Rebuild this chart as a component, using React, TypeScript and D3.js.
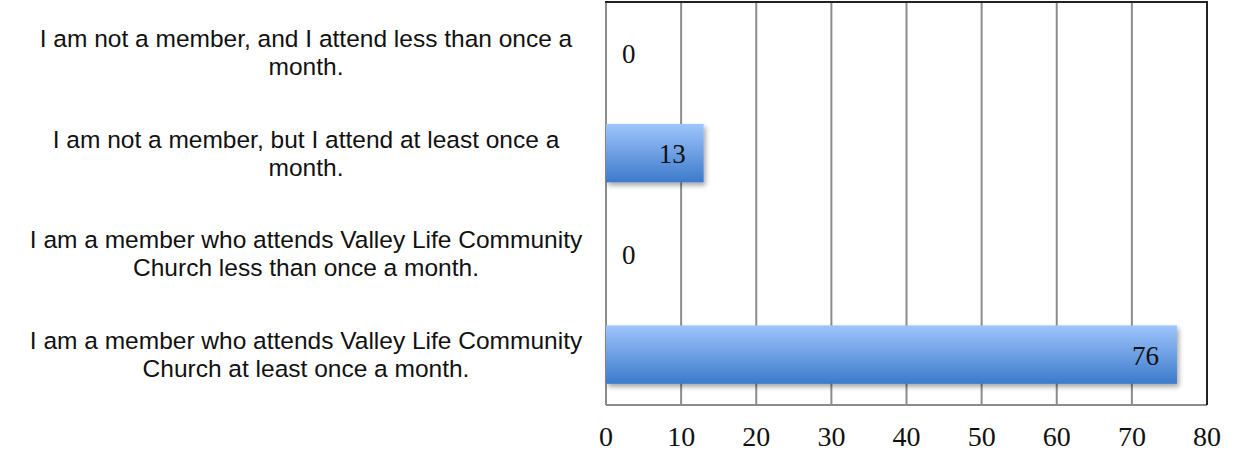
import React from "react";
import * as d3 from "d3";

const categories: string[][] = [
  ["I am not a member, and I attend less than once a", "month."],
  ["I am not a member, but I attend at least once a", "month."],
  ["I am a member who attends Valley Life Community", "Church less than once a month."],
  ["I am a member who attends Valley Life Community", "Church at least once a month."],
];
const values: number[] = [0, 13, 0, 76];
const ticks: number[] = [0, 10, 20, 30, 40, 50, 60, 70, 80];

const W = 1233;
const H = 454;
const left = 606;
const right = 1207;
const top = 2;
const bottom = 405;

export default function App() {
  const x = d3.scaleLinear().domain([0, 80]).range([left, right]);
  const y = d3
    .scaleBand<number>()
    .domain(d3.range(categories.length))
    .range([top, bottom])
    .paddingInner(0.42)
    .paddingOuter(0.21);
  const band = d3.scaleBand<number>().domain(d3.range(categories.length)).range([top, bottom]);
  const serif = "'Liberation Serif', 'DejaVu Serif', serif";
  const sans = "'Liberation Sans', Arial, sans-serif";
  const labelX = 306;
  return (
    <svg
      width={W}
      height={H}
      style={{ position: "absolute", left: 0, top: 0, background: "#fff" }}
    >
      <defs>
        <linearGradient id="barGrad" x1="0" y1="0" x2="0" y2="1">
          <stop offset="0%" stopColor="#9EC5FC" />
          <stop offset="100%" stopColor="#3D7ACB" />
        </linearGradient>
        <filter id="shadow" x="-10%" y="-20%" width="130%" height="160%">
          <feDropShadow dx="2" dy="3" stdDeviation="2.5" floodColor="#000" floodOpacity="0.35" />
        </filter>
      </defs>
      {ticks.slice(1, -1).map((t) => (
        <line key={t} x1={x(t)} x2={x(t)} y1={top} y2={bottom} stroke="#8c8c8c" strokeWidth={2} />
      ))}
      <line x1={left} x2={left} y1={top} y2={bottom} stroke="#8c8c8c" strokeWidth={2} />
      <line x1={left} x2={right} y1={bottom} y2={bottom} stroke="#8c8c8c" strokeWidth={2} />
      <line x1={left - 1} x2={right + 1} y1={top} y2={top} stroke="#222" strokeWidth={2} />
      <line x1={right} x2={right} y1={top} y2={bottom} stroke="#222" strokeWidth={2} />
      {values.map((v, i) =>
        v > 0 ? (
          <rect
            key={i}
            x={x(0)}
            y={y(i)}
            width={x(v) - x(0)}
            height={y.bandwidth()}
            fill="url(#barGrad)"
            filter="url(#shadow)"
          />
        ) : null
      )}
      {values.map((v, i) => {
        const cy = (y(i) as number) + y.bandwidth() / 2;
        return v > 0 ? (
          <text key={i} x={x(v) - 18} y={cy} dy="0.38em" textAnchor="end" fontFamily={serif} fontSize={27} fill="#111">
            {v}
          </text>
        ) : (
          <text key={i} x={x(0) + 16} y={cy} dy="0.38em" textAnchor="start" fontFamily={serif} fontSize={27} fill="#111">
            {v}
          </text>
        );
      })}
      {ticks.map((t) => (
        <text key={t} x={x(t)} y={446} textAnchor="middle" fontFamily={serif} fontSize={28} fill="#111">
          {t}
        </text>
      ))}
      {categories.map((lines, i) => {
        const cy = (band(i) as number) + band.bandwidth() / 2;
        return (
          <text key={i} x={labelX} y={cy} textAnchor="middle" fontFamily={sans} fontSize={24.5} fill="#111">
            {lines.map((ln, j) => (
              <tspan key={j} x={labelX} y={cy + (j - (lines.length - 1) / 2) * 28} dy="0.35em">
                {ln}
              </tspan>
            ))}
          </text>
        );
      })}
    </svg>
  );
}
